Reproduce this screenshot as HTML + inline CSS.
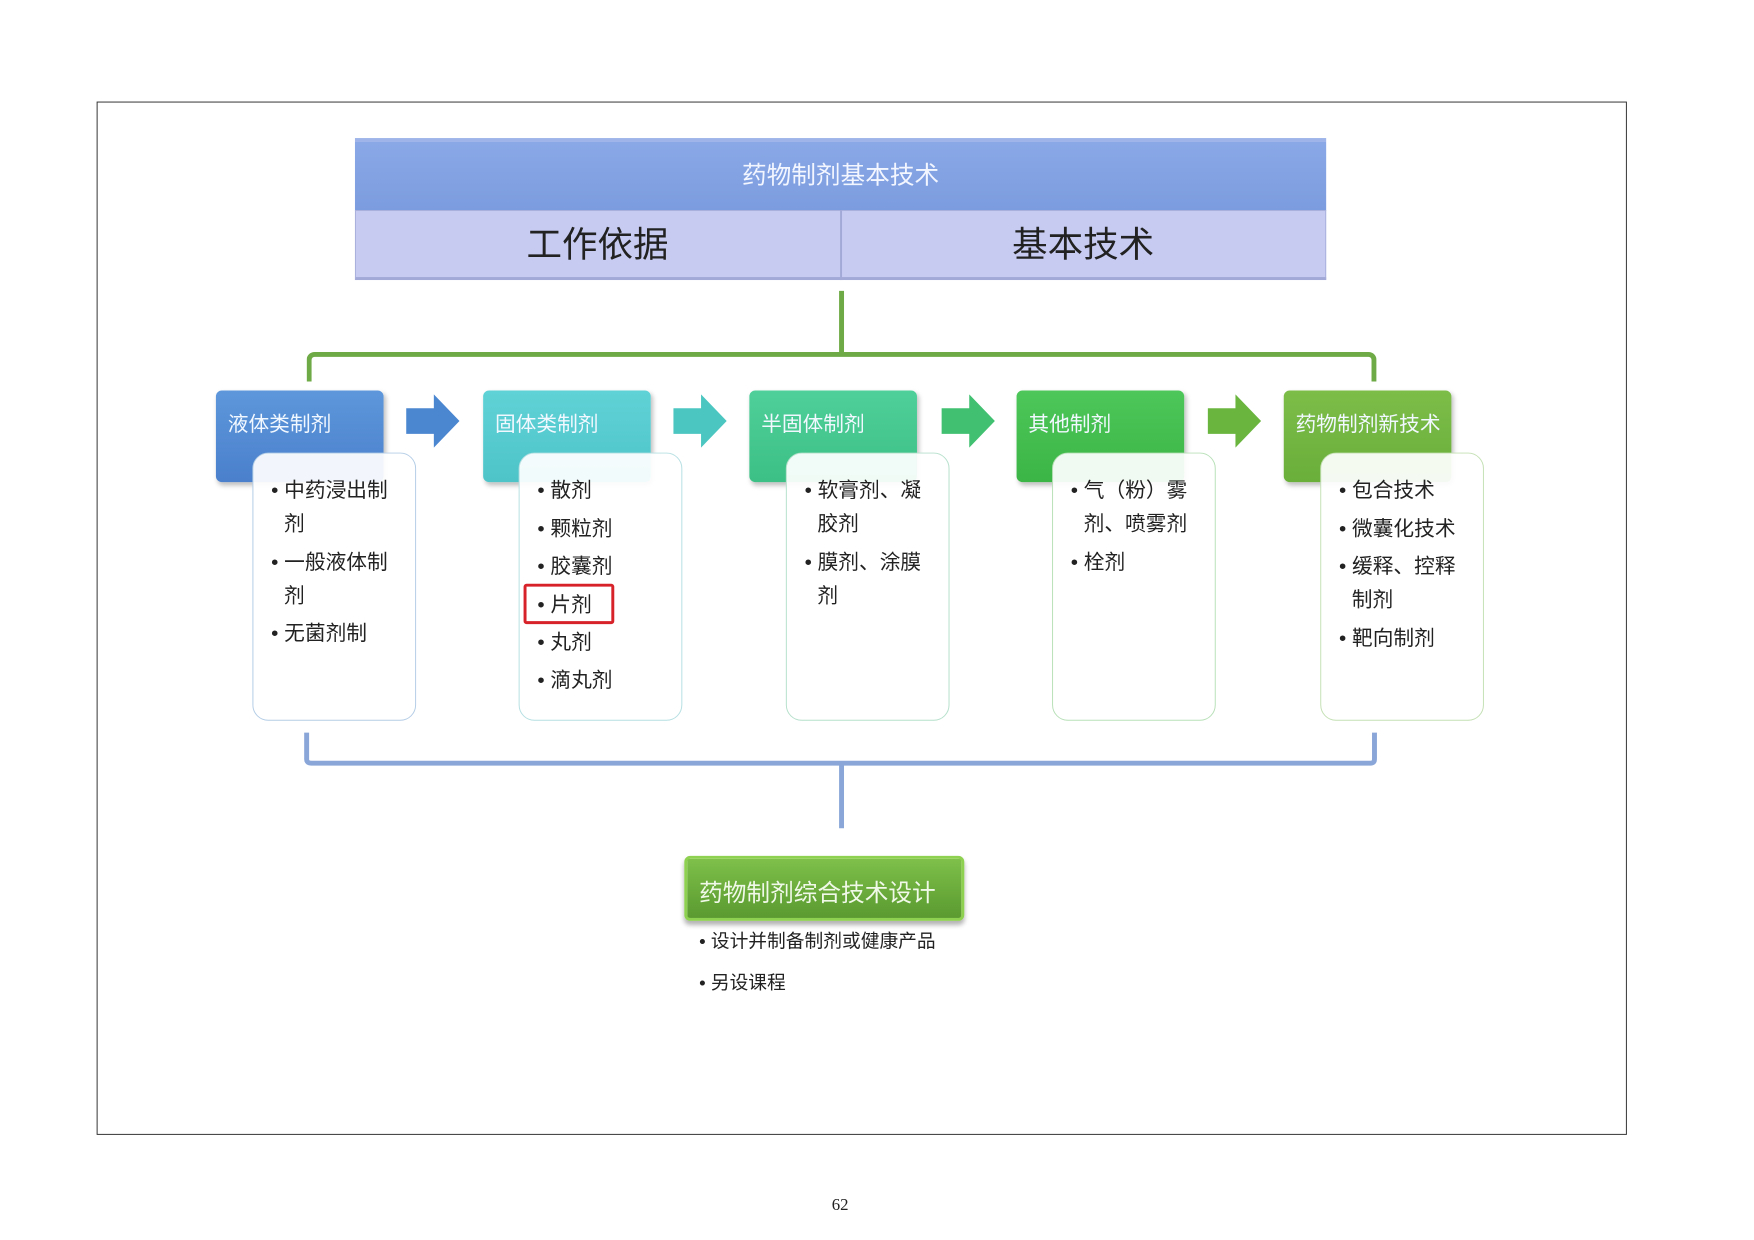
<!DOCTYPE html>
<html><head><meta charset="utf-8"><style>
body{margin:0;width:1754px;height:1240px;background:#fff;position:relative;overflow:hidden;font-family:"Liberation Sans","Noto Sans CJK SC",sans-serif}
#w{position:absolute;left:0;top:0;width:1754px;height:1240px;transform:scale(0.986);transform-origin:0 0}
div{position:absolute;box-sizing:border-box}
.hd{width:170px;height:93px;top:396px;border-radius:6px;color:#f2f8ff;font-size:21px;padding:18px 0 0 12px;white-space:nowrap;box-shadow:2px 3px 5px rgba(0,0,0,.25)}
.bx{width:166px;height:272px;top:459px;border-radius:16px;background:rgba(255,255,255,.93);border:1.5px solid #b9d3e8;padding:21px 0 0 18px;font-size:21px;color:#222;line-height:34px;white-space:nowrap}
.bx p{margin:0 0 4.6px 0;padding-left:13px;text-indent:-13px}
</style></head><body><div id="w">
<div style="left:98px;top:103px;width:1552px;height:1048px;border:1.5px solid #333"></div>
<div style="left:360px;top:140px;width:985px;height:73px;background:linear-gradient(#8aa8e6,#7b9cdf);border-top:4px solid #9fb5ea;color:#f3f6ff;font-size:25px;text-align:center;line-height:68px">药物制剂基本技术</div>
<div style="left:360px;top:213px;width:985px;height:71px;background:#c7cbf2;border:1.5px solid #a9b0dc;border-bottom:3px solid #a3a9d6"></div>
<div style="left:852px;top:213px;width:2px;height:71px;background:#a3a9d6"></div>
<div style="left:360px;top:213px;width:492px;height:71px;font-size:36px;text-align:center;line-height:70px;color:#222">工作依据</div>
<div style="left:852px;top:213px;width:493px;height:71px;font-size:36px;text-align:center;line-height:70px;color:#222">基本技术</div>
<div style="left:851px;top:295px;width:5px;height:66px;background:#6eaa45"></div>
<div style="left:311px;top:357px;width:1085px;height:30px;border:5px solid #6eaa45;border-bottom:none;border-radius:8px 8px 0 0"></div>
<div class="hd" style="left:219px;background:linear-gradient(#5e97db,#4a80cc)">液体类制剂</div>
<div class="hd" style="left:490px;background:linear-gradient(#5fd2d6,#4ec4c8)">固体类制剂</div>
<div class="hd" style="left:760px;background:linear-gradient(#4fcf9a,#3cc085)">半固体制剂</div>
<div class="hd" style="left:1031px;background:linear-gradient(#4ec75a,#3bb545)">其他制剂</div>
<div class="hd" style="left:1302px;background:linear-gradient(#7cbd48,#6aaf3a)">药物制剂新技术</div>
<svg style="position:absolute;left:0;top:0" width="1754" height="1240">
<polygon points="412,414 440,414 440,400 466,427 440,454 440,440 412,440" fill="#4b86d0"/>
<polygon points="683,414 711,414 711,400 737,427 711,454 711,440 683,440" fill="#4cc6c0"/>
<polygon points="955,414 983,414 983,400 1009,427 983,454 983,440 955,440" fill="#40c070"/>
<polygon points="1225,414 1253,414 1253,400 1279,427 1253,454 1253,440 1225,440" fill="#6ab53e"/>
<path d="M311,743 V770 Q311,774 316,774 H1390 Q1394,774 1394,770 V743" fill="none" stroke="#8aa6d8" stroke-width="5"/>
<rect x="851" y="774" width="5" height="66" fill="#8aa6d8"/>
</svg>
<div class="bx" style="left:256px;border-color:#b4cde6"><p>• 中药浸出制<br>剂</p><p>• 一般液体制<br>剂</p><p>• 无菌剂制</p></div>
<div class="bx" style="left:526px;border-color:#b6dfe2"><p>• 散剂</p><p>• 颗粒剂</p><p>• 胶囊剂</p><p>• 片剂</p><p>• 丸剂</p><p>• 滴丸剂</p></div>
<div style="left:531px;top:592px;width:92px;height:41px;border:3px solid #d8222a;border-radius:3px"></div>
<div class="bx" style="left:797px;border-color:#b6e0cc"><p>• 软膏剂、凝<br>胶剂</p><p>• 膜剂、涂膜<br>剂</p></div>
<div class="bx" style="left:1067px;border-color:#b8e0b8"><p>• 气（粉）雾<br>剂、喷雾剂</p><p>• 栓剂</p></div>
<div class="bx" style="left:1339px;border-color:#c4e0b4"><p>• 包合技术</p><p>• 微囊化技术</p><p>• 缓释、控释<br>制剂</p><p>• 靶向制剂</p></div>
<div style="left:694px;top:868px;width:284px;height:66px;border-radius:6px;background:linear-gradient(#7ec04a,#5a9a30);border:3px solid #8ed050;box-shadow:0 4px 5px rgba(0,0,0,.3);color:#f0f8e8;font-size:24px;padding:15px 0 0 12px;white-space:nowrap">药物制剂综合技术设计</div>
<div style="left:709px;top:935px;font-size:19px;line-height:42px;color:#222;white-space:nowrap">• 设计并制备制剂或健康产品<br>• 另设课程</div>
<div style="left:830px;top:1212px;width:44px;text-align:center;font-family:'Liberation Serif',serif;font-size:17px;color:#222">62</div>
</div></body></html>
